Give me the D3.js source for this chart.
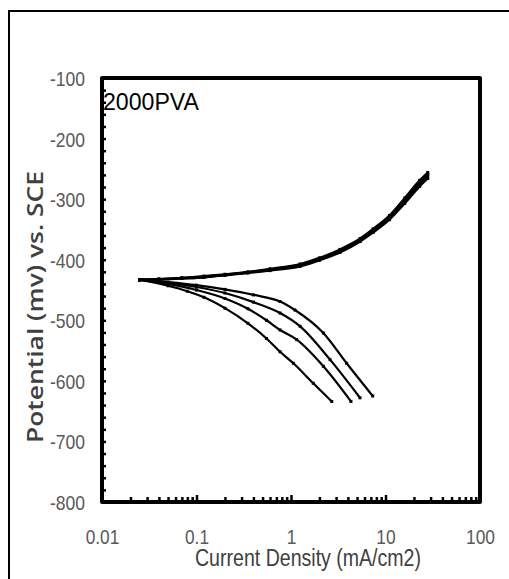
<!DOCTYPE html>
<html>
<head>
<meta charset="utf-8">
<script src="https://cdn.jsdelivr.net/npm/d3@7"></script>
<style>
  body { margin: 0; background: #fff; }
  svg { display: block; }
</style>
</head>
<body>
<div id="chart"></div>
<script>
// data (current in mA/cm2, potential in mV)
var chartTitle = "2000PVA";
var xTickValues = [0.01, 0.1, 1, 10, 100];
var xTickLabels = ["0.01", "0.1", "1", "10", "100"];
var yTickValues = [-100, -200, -300, -400, -500, -600, -700, -800];

var anodicCurrent = [0.025, 0.04, 0.07, 0.12, 0.2, 0.35, 0.6, 1.25, 2.0, 3.3, 5.4, 7.4, 11, 16, 23, 28];
var anodicA = [-433, -432, -430, -428, -425, -421, -417, -409, -399, -386, -368, -353, -331, -303, -275, -262];
var anodicB = [-433, -432, -431, -429, -426, -422, -418, -411, -401, -388, -370, -355, -334, -307, -279, -266];
var anodicC = [-434, -433, -431, -429, -425, -421, -416, -408, -398, -384, -366, -351, -329, -301, -272, -259];
var anodicD = [-433, -432, -430, -427, -424, -420, -415, -407, -397, -383, -365, -349, -327, -298, -269, -256];

var cath1Current = [0.025, 0.05, 0.08, 0.12, 0.2, 0.35, 0.55, 0.766, 1.06, 1.72, 2.7];
var cath1 = [-433, -443, -452, -462, -480, -505, -530, -552, -571, -604, -634];
var cath2Current = [0.025, 0.05, 0.1, 0.2, 0.35, 0.55, 0.766, 1.15, 2.2, 4.31];
var cath2 = [-433, -440, -450, -464, -481, -500, -516, -532, -576, -634];
var cath3Current = [0.025, 0.05, 0.1, 0.2, 0.4, 0.766, 1.25, 2.59, 5.37];
var cath3 = [-433, -438, -445, -455, -470, -488, -510, -565, -628];
var cath4Current = [0.025, 0.05, 0.1, 0.2, 0.4, 0.766, 1.1, 2.2, 3.88, 7.32];
var cath4 = [-433, -437, -442, -449, -458, -469, -483, -521, -571, -625];

var series = [
  [anodicCurrent, anodicA], [anodicCurrent, anodicB], [anodicCurrent, anodicC], [anodicCurrent, anodicD],
  [cath1Current, cath1], [cath2Current, cath2], [cath3Current, cath3], [cath4Current, cath4]
].map(function(s) {
  return s[0].map(function(c, i) { return {x: c, y: s[1][i]}; });
});

var width = 509, height = 579;
var plot = {left: 102, right: 480, top: 78, bottom: 502};
var narrowFont = "'Liberation Sans', Arial, sans-serif";

// squeeze text like a narrow font
function narrowLength(s, size) {
  var w = 0;
  for (var i = 0; i < s.length; i++) {
    var c = s[i];
    w += (c == "-") ? 0.29 : (c == ".") ? 0.22 : 0.46;
  }
  return w * size;
}

var svg = d3.select("#chart").append("svg").attr("width", width).attr("height", height);

// outer frame
svg.append("rect").attr("x", 9).attr("y", 11).attr("width", 620).attr("height", 620)
    .attr("fill", "none").attr("stroke", "#000").attr("stroke-width", 2);

var x = d3.scaleLog().domain([0.01, 100]).range([plot.left, plot.right]);
var y = d3.scaleLinear().domain([-800, -100]).range([plot.bottom, plot.top]);

// inner ticks on bottom axis (log minors) and left axis
var minorX = x.ticks().filter(function(d) { return xTickValues.indexOf(d) < 0; });
function innerTicks(g) {
    g.select(".domain").remove();
    g.selectAll("line").attr("stroke", "#000").attr("stroke-width", 2.5);
}
svg.append("g").attr("transform", "translate(0," + plot.bottom + ")")
    .call(d3.axisBottom(x).tickValues(minorX).tickSize(-5).tickFormat(""))
    .call(innerTicks);
svg.append("g").attr("transform", "translate(0," + plot.bottom + ")")
    .call(d3.axisBottom(x).tickValues(xTickValues).tickSize(-7).tickFormat(""))
    .call(innerTicks);
svg.append("g").attr("transform", "translate(" + plot.left + ",0)")
    .call(d3.axisLeft(y).tickValues(d3.range(-800, -99, 20)).tickSize(-4).tickFormat(""))
    .call(innerTicks);

// tick labels
svg.append("g").attr("transform", "translate(0," + (plot.bottom + 42) + ")")
    .call(d3.axisBottom(x).tickValues(xTickValues).tickSize(0).tickPadding(0)
        .tickFormat(function(d, i) { return xTickLabels[i]; }))
    .call(function(g) {
        g.select(".domain").remove();
        g.selectAll("text").attr("dy", 0).attr("fill", "#595959")
            .attr("font-family", narrowFont).attr("font-size", 21)
            .attr("textLength", function(d, i) { return narrowLength(xTickLabels[i], 21); })
            .attr("lengthAdjust", "spacingAndGlyphs");
    });
svg.append("g").attr("transform", "translate(" + (plot.left - 17) + ",0)")
    .call(d3.axisLeft(y).tickValues(yTickValues).tickSize(0).tickPadding(0).tickFormat(String))
    .call(function(g) {
        g.select(".domain").remove();
        g.selectAll("text").attr("dy", "0.36em").attr("fill", "#595959")
            .attr("font-family", narrowFont).attr("font-size", 21)
            .attr("textLength", function(d) { return narrowLength(String(d), 21); })
            .attr("lengthAdjust", "spacingAndGlyphs");
    });

// curves
var line = d3.line().x(function(d) { return x(d.x); }).y(function(d) { return y(d.y); })
    .curve(d3.curveMonotoneX);
svg.append("g").selectAll("path").data(series).join("path")
    .attr("d", line).attr("fill", "none").attr("stroke", "#000").attr("stroke-width", 2.2);
svg.append("g").selectAll("g").data(series).join("g")
    .selectAll("rect").data(function(d) { return d; }).join("rect")
    .attr("x", function(d) { return x(d.x) - 1.5; }).attr("y", function(d) { return y(d.y) - 1.5; })
    .attr("width", 3).attr("height", 3).attr("fill", "#000");

// plot frame
svg.append("rect").attr("x", plot.left).attr("y", plot.top)
    .attr("width", plot.right - plot.left).attr("height", plot.bottom - plot.top)
    .attr("fill", "none").attr("stroke", "#000").attr("stroke-width", 4)
    .attr("stroke-linejoin", "round");

// labels
svg.append("text").attr("x", plot.left + 1).attr("y", plot.top + 32).text(chartTitle)
    .attr("font-family", narrowFont).attr("font-size", 24).attr("fill", "#000")
    .attr("textLength", 96).attr("lengthAdjust", "spacingAndGlyphs");

svg.append("text").attr("x", 308).attr("y", 566).attr("text-anchor", "middle")
    .text("Current Density (mA/cm2)")
    .attr("font-family", narrowFont).attr("font-size", 23).attr("fill", "#404040")
    .attr("textLength", 226).attr("lengthAdjust", "spacingAndGlyphs");

svg.append("text").attr("transform", "translate(43,307) rotate(-90)").attr("text-anchor", "middle")
    .text("Potential (mv) vs. SCE")
    .attr("font-family", "'Open Sans', 'Noto Sans', sans-serif").attr("font-weight", 600)
    .attr("font-size", 22).attr("fill", "#404040")
    .attr("textLength", 272).attr("lengthAdjust", "spacingAndGlyphs");
</script>
</body>
</html>
